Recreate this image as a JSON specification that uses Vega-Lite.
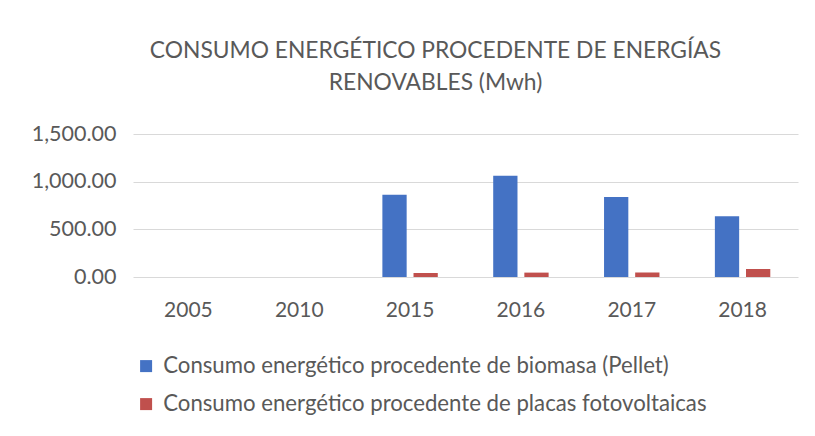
{
  "$schema": "https://vega.github.io/schema/vega-lite/v6.json",
  "width": 665,
  "height": 143,
  "autosize": {"type": "none"},
  "padding": {"left": 133, "top": 134, "right": 17, "bottom": 159},
  "background": "#ffffff",
  "title": {
    "text": ["CONSUMO ENERGÉTICO PROCEDENTE DE ENERGÍAS", "RENOVABLES (Mwh)"],
    "font": "Lato",
    "fontSize": 22.8,
    "fontWeight": "normal",
    "color": "#595959",
    "lineHeight": 32,
    "anchor": "middle",
    "dx": -30,
    "offset": 28
  },
  "data": {
    "values": [
      {"year": "2005", "series": "Consumo energético procedente de biomasa (Pellet)", "value": 0},
      {"year": "2005", "series": "Consumo energético procedente de placas fotovoltaicas", "value": 0},
      {"year": "2010", "series": "Consumo energético procedente de biomasa (Pellet)", "value": 0},
      {"year": "2010", "series": "Consumo energético procedente de placas fotovoltaicas", "value": 0},
      {"year": "2015", "series": "Consumo energético procedente de biomasa (Pellet)", "value": 863},
      {"year": "2015", "series": "Consumo energético procedente de placas fotovoltaicas", "value": 42},
      {"year": "2016", "series": "Consumo energético procedente de biomasa (Pellet)", "value": 1063},
      {"year": "2016", "series": "Consumo energético procedente de placas fotovoltaicas", "value": 46},
      {"year": "2017", "series": "Consumo energético procedente de biomasa (Pellet)", "value": 839},
      {"year": "2017", "series": "Consumo energético procedente de placas fotovoltaicas", "value": 46},
      {"year": "2018", "series": "Consumo energético procedente de biomasa (Pellet)", "value": 636},
      {"year": "2018", "series": "Consumo energético procedente de placas fotovoltaicas", "value": 84}
    ]
  },
  "mark": {"type": "bar"},
  "encoding": {
    "x": {
      "field": "year",
      "type": "nominal",
      "sort": null,
      "title": null,
      "scale": {"paddingInner": 0.5, "paddingOuter": 0.25},
      "axis": {
        "labelAngle": 0,
        "labelFont": "Lato",
        "labelFontSize": 21,
        "labelColor": "#595959",
        "ticks": false,
        "tickSize": 0,
        "labelPadding": 22,
        "domain": false,
        "grid": false
      }
    },
    "xOffset": {
      "field": "series",
      "type": "nominal",
      "sort": null,
      "scale": {"paddingInner": 0.22, "paddingOuter": 0}
    },
    "y": {
      "field": "value",
      "type": "quantitative",
      "title": null,
      "scale": {"domain": [0, 1500], "nice": false},
      "axis": {
        "values": [0, 500, 1000, 1500],
        "format": ",.2f",
        "labelFont": "Lato",
        "labelFontSize": 21.5,
        "labelColor": "#595959",
        "ticks": false,
        "tickSize": 0,
        "labelPadding": 17,
        "domain": false,
        "grid": true,
        "gridColor": "#d9d9d9",
        "gridWidth": 1
      }
    },
    "color": {
      "field": "series",
      "type": "nominal",
      "sort": null,
      "scale": {"range": ["#4472C4", "#C0504D"]},
      "legend": {
        "title": null,
        "orient": "none",
        "legendX": 2,
        "legendY": 221,
        "padding": 0,
        "direction": "vertical",
        "symbolType": "square",
        "symbolSize": 144,
        "symbolStrokeWidth": 0,
        "labelFont": "Lato",
        "labelFontSize": 22.2,
        "labelColor": "#595959",
        "labelOffset": 6,
        "labelLimit": 700,
        "rowPadding": 15
      }
    }
  },
  "config": {
    "view": {"stroke": null}
  }
}
